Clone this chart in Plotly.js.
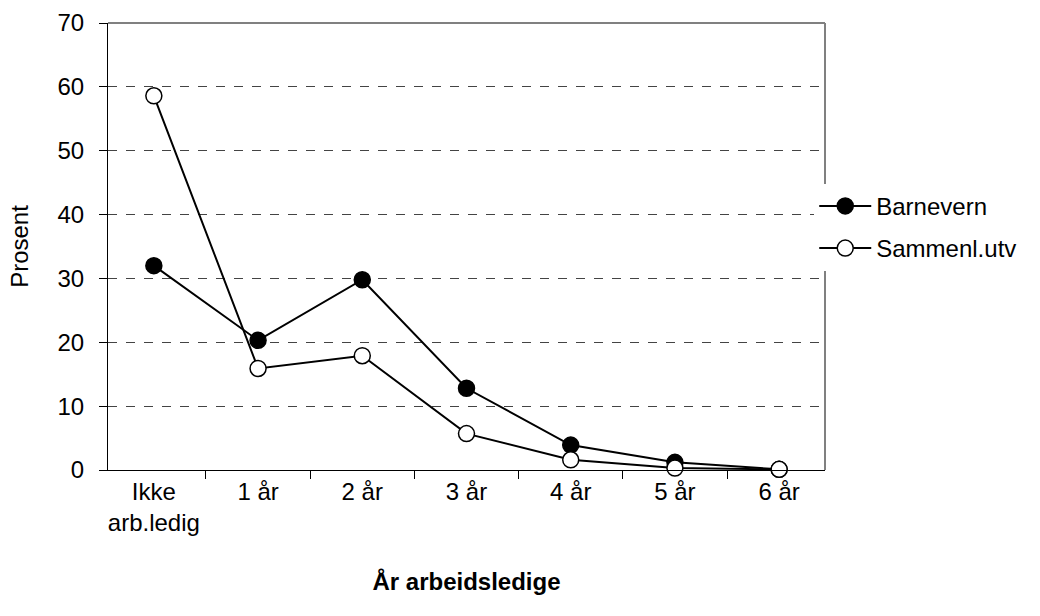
<!DOCTYPE html>
<html>
<head>
<meta charset="utf-8">
<script src="https://cdn.plot.ly/plotly-3.0.1.min.js"></script>
<style>html,body{margin:0;padding:0;background:#fff;}#chart{width:1040px;height:616px;}</style>
</head>
<body>
<div id="chart"></div>
<script>
var categories = ["Ikke<br>arb.ledig", "1 år", "2 år", "3 år", "4 år", "5 år", "6 år"];
var barnevern = [32.0, 20.3, 29.8, 12.8, 3.9, 1.2, 0.1];
var sammenlutv = [58.6, 15.9, 17.9, 5.7, 1.6, 0.3, 0.1];
var seriesNames = ["Barnevern", "Sammenl.utv"];
var yTicks = [0, 10, 20, 30, 40, 50, 60, 70];

var fontFam = "Liberation Sans, Arial, sans-serif";
var fs = 24;

var traces = [
  {
    x: categories, y: barnevern, name: seriesNames[0], type: "scatter", mode: "lines+markers",
    line: {color: "#000", width: 2},
    marker: {symbol: "circle", size: 16, color: "#000", line: {color: "#000", width: 1.5}},
    legendgroup: "a", cliponaxis: false
  },
  {
    x: categories, y: sammenlutv, name: seriesNames[1], type: "scatter", mode: "lines+markers",
    line: {color: "#000", width: 2},
    marker: {symbol: "circle", size: 16, color: "#fff", line: {color: "#000", width: 1.5}},
    legendgroup: "b", cliponaxis: false
  }
];

var layout = {
  width: 1040, height: 616,
  margin: {l: 108, r: 215, t: 23, b: 146},
  paper_bgcolor: "#fff", plot_bgcolor: "#fff",
  font: {family: fontFam, size: fs, color: "#000"},
  showlegend: true,
  legend: {
    x: 0.985, xanchor: "left", y: 0.543, yanchor: "middle",
    bgcolor: "#fff", borderwidth: 0,
    font: {family: fontFam, size: fs, color: "#000"},
    traceorder: "grouped", tracegroupgap: 8,
    itemwidth: 52
  },
  xaxis: {
    type: "category",
    tickson: "boundaries",
    ticks: "outside", ticklen: 8, tickcolor: "#000", tickwidth: 1,
    showline: true, linecolor: "#000", linewidth: 1,
    showgrid: false, zeroline: false,
    tickfont: {family: fontFam, size: fs, color: "#000"},
    ticklabelstandoff: 0,
    title: {text: "<b>År arbeidsledige</b>", font: {family: fontFam, size: fs, color: "#000"}, standoff: 38},
    fixedrange: true
  },
  yaxis: {
    range: [0, 70],
    tickvals: yTicks,
    ticktext: yTicks.map(String),
    ticks: "outside", ticklen: 8, tickcolor: "#000", tickwidth: 1,
    showline: true, linecolor: "#000", linewidth: 1,
    showgrid: true, gridcolor: "#444", griddash: "dash", gridwidth: 1,
    zeroline: false,
    tickfont: {family: fontFam, size: fs, color: "#000"},
    ticklabelstandoff: 10,
    title: {text: "Prosent", font: {family: fontFam, size: fs, color: "#000"}, standoff: 22},
    fixedrange: true
  },
  shapes: [
    {type: "line", xref: "paper", yref: "paper", x0: 0, x1: 1, y0: 1, y1: 1, line: {color: "#808080", width: 2}, layer: "above"},
    {type: "line", xref: "paper", yref: "paper", x0: 1, x1: 1, y0: 0, y1: 1, line: {color: "#808080", width: 2}, layer: "below"}
  ]
};

Plotly.newPlot("chart", traces, layout, {displayModeBar: false, staticPlot: true});
</script>
</body>
</html>
